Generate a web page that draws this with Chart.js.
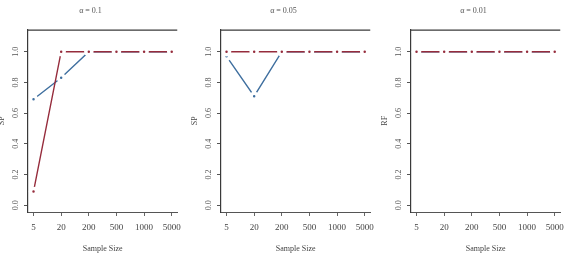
<!DOCTYPE html>
<html>
<head>
<meta charset="utf-8">
<script src="https://cdn.jsdelivr.net/npm/chart.js@4/dist/chart.umd.min.js"></script>
<style>
  html, body { margin: 0; padding: 0; background: #fff; }
  body { width: 582px; height: 258px; position: relative; overflow: hidden; }
  .panel { position: absolute; top: 0; width: 190px; height: 258px; }
</style>
</head>
<body>
<div class="panel" style="left:-3px"><canvas id="c1"></canvas></div>
<div class="panel" style="left:190px"><canvas id="c2"></canvas></div>
<div class="panel" style="left:380px"><canvas id="c3"></canvas></div>
<script>
// sample sizes on the x axis (equally spaced)
const sampleSizes = ['5', '20', '200', '500', '1000', '5000'];
const yTicks = [0.0, 0.2, 0.4, 0.6, 0.8, 1.0];

// alpha = 0.1
const blue_01 = [0.69, 0.83, 1.0, 1.0, 1.0, 1.0];
const red_01  = [0.09, 1.0, 1.0, 1.0, 1.0, 1.0];
// alpha = 0.05
const blue_005 = [0.97, 0.71, 1.0, 1.0, 1.0, 1.0];
const red_005  = [1.0, 1.0, 1.0, 1.0, 1.0, 1.0];
// alpha = 0.01
const blue_001 = [1.0, 1.0, 1.0, 1.0, 1.0, 1.0];
const red_001  = [1.0, 1.0, 1.0, 1.0, 1.0, 1.0];

const BLUE = '#3f6f9f';
const RED = '#962c3c';
const FONT = "'Liberation Serif', 'DejaVu Serif', serif";

// top frame line, like R's partial box
const topLine = {
  id: 'topLine',
  afterDraw(chart){
    const a = chart.chartArea, ctx = chart.ctx;
    ctx.save();
    ctx.strokeStyle = '#3a3a3a';
    ctx.lineWidth = 1.2;
    ctx.beginPath();
    ctx.moveTo(a.left, a.top + 0.5);
    ctx.lineTo(a.right, a.top + 0.5);
    ctx.stroke();
    ctx.restore();
  }
};

// y tick labels drawn parallel to the axis (R style)
const rotatedYLabels = {
  id: 'rotatedYLabels',
  afterDraw(chart){
    const y = chart.scales.y, ctx = chart.ctx;
    ctx.save();
    ctx.font = `8px ${FONT}`;
    ctx.fillStyle = '#555';
    ctx.textAlign = 'center';
    ctx.textBaseline = 'middle';
    yTicks.forEach(function(v){
      const py = y.getPixelForValue(v);
      ctx.save();
      ctx.translate(chart.chartArea.left - 12, py);
      ctx.rotate(-Math.PI / 2);
      ctx.fillText(v.toFixed(1), 0, 0);
      ctx.restore();
    });
    ctx.restore();
  }
};

function series(label, values, color){
  return {
    label: label,
    data: values.map((v, i) => ({x: i, y: v})),
    borderColor: color,
    borderWidth: 1.4,
    pointRadius: 3,
    pointBorderWidth: 3.5,
    pointBorderColor: '#fff',
    pointBackgroundColor: color,
    tension: 0
  };
}

function make_panel(id, title, ytitle, blue, red){
  const ctx = document.getElementById(id);
  return new Chart(ctx, {
    type: 'line',
    data: {
      datasets: [series('red', red, RED), series('blue', blue, BLUE)]
    },
    plugins: [topLine, rotatedYLabels],
    options: {
      responsive: true,
      maintainAspectRatio: false,
      animation: false,
      events: [],
      layout: { padding: { left: 0, right: 3, top: 0, bottom: 0 } },
      scales: {
        x: {
          type: 'linear',
          min: -0.2,
          max: 5.2,
          afterBuildTicks: function(scale){
            scale.ticks = sampleSizes.map((_, i) => ({value: i}));
          },
          afterFit: function(scale){ scale.height = 46; },
          ticks: {
            callback: (v) => sampleSizes[v],
            font: { family: FONT, size: 9 },
            color: '#444',
            padding: 6,
            maxRotation: 0,
            autoSkip: false
          },
          grid: { display: true, drawOnChartArea: false, drawTicks: true, tickLength: 4, tickColor: '#666' },
          border: { display: true, color: '#555', width: 1 },
          title: { display: true, text: 'Sample Size', font: { family: FONT, size: 8 }, color: '#444', padding: { top: 0, bottom: 4 } }
        },
        y: {
          min: -0.044,
          max: 1.144,
          afterBuildTicks: function(scale){
            scale.ticks = yTicks.map(v => ({value: v}));
          },
          afterFit: function(scale){ scale.width = 31; },
          ticks: { display: false },
          grid: { display: true, drawOnChartArea: false, drawTicks: true, tickLength: 4, tickColor: '#555' },
          border: { display: true, color: '#3a3a3a', width: 1.2 },
          title: { display: true, text: ytitle, font: { family: FONT, size: 8 }, color: '#444', padding: 0 }
        }
      },
      plugins: {
        legend: false,
        tooltip: { enabled: false },
        title: {
          display: true,
          text: title,
          font: { family: FONT, size: 8, weight: 'normal' },
          color: '#555',
          padding: { top: 6, bottom: 14 }
        }
      }
    }
  });
}

make_panel('c1', 'α = 0.1', 'SP', blue_01, red_01);
make_panel('c2', 'α = 0.05', 'SP', blue_005, red_005);
make_panel('c3', 'α = 0.01', 'RF', blue_001, red_001);
</script>
</body>
</html>
